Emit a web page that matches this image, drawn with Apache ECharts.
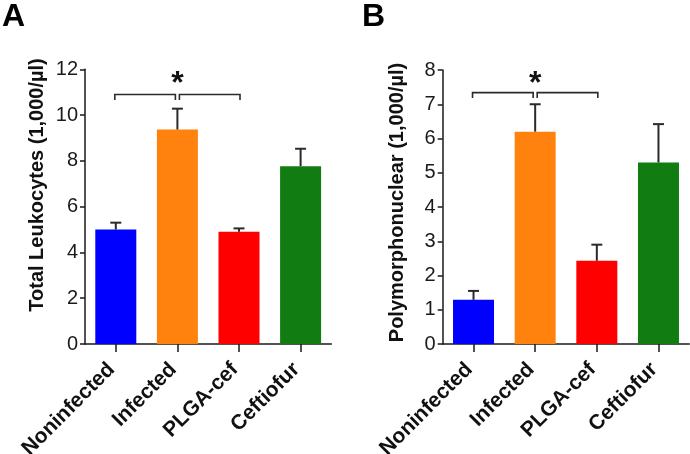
<!DOCTYPE html>
<html>
<head>
<meta charset="utf-8">
<script src="https://cdn.jsdelivr.net/npm/echarts@6/dist/echarts.min.js"></script>
<style>
html,body{margin:0;padding:0;background:#fff;}
#chart{width:690px;height:454px;}
</style>
</head>
<body>
<div id="chart"></div>
<script>
// ---- data ----
const categories = ['Noninfected', 'Infected', 'PLGA-cef', 'Ceftiofur'];
const colors = ['#0000ff', '#ff820e', '#ff0000', '#117c11'];

const leukoMean = [5.0, 9.37, 4.9, 7.77];
const leukoUpper = [5.3, 10.28, 5.05, 8.53];

const pmnMean = [1.29, 6.2, 2.43, 5.3];
const pmnUpper = [1.55, 7.0, 2.9, 6.42];

const leukoTicks = {min: 0, max: 12, interval: 2};
const pmnTicks = {min: 0, max: 8, interval: 1};

// significance brackets: [fromCategory, toCategory]
const bracketPairs = [[0, 1], [1, 2]];
const leukoBracketLevel = 10.9;
const pmnBracketLevel = 7.34;
const leukoStarLevel = 11.34;
const pmnStarLevel = 7.58;

const titleA = 'Total Leukocytes (1,000/µl)';
const titleB = 'Polymorphonuclear (1,000/µl)';

// ---- chart ----
const FONT = '"Liberation Sans", Arial, Helvetica, sans-serif';
const chart = echarts.init(document.getElementById('chart'), null, {renderer: 'canvas'});

function xAxisCfg(gridIndex) {
  return {
    type: 'category', gridIndex, data: categories, boundaryGap: true,
    axisLine: {show: true, lineStyle: {color: '#1a1a1a', width: 1.5}},
    axisTick: {show: true, alignWithLabel: true, length: 8, lineStyle: {color: '#1a1a1a', width: 1.5}},
    axisLabel: {rotate: 45, fontFamily: FONT, fontWeight: 'bold', fontSize: 21, color: '#111', margin: 18, padding: [0, 6, 0, 0], interval: 0},
    splitLine: {show: false}
  };
}
function yAxisCfg(gridIndex, t) {
  return {
    type: 'value', gridIndex, min: t.min, max: t.max, interval: t.interval,
    axisLine: {show: true, lineStyle: {color: '#1a1a1a', width: 1.5}},
    axisTick: {show: true, length: 5, lineStyle: {color: '#1a1a1a', width: 1.5}},
    axisLabel: {fontFamily: FONT, fontSize: 20, color: '#1a1a1a', margin: 7},
    splitLine: {show: false}
  };
}
function barSeries(idx, values) {
  return {
    type: 'bar', xAxisIndex: idx, yAxisIndex: idx, barWidth: 41,
    data: values.map((v, i) => ({value: v, itemStyle: {color: colors[i]}})),
    z: 2
  };
}
function errSeries(idx, mean, upper) {
  return {
    type: 'custom', xAxisIndex: idx, yAxisIndex: idx, z: 3,
    data: mean.map((m, i) => [i, m, upper[i]]),
    renderItem: function (params, api) {
      const p1 = api.coord([api.value(0), api.value(1)]);
      const p2 = api.coord([api.value(0), api.value(2)]);
      const st = {stroke: '#2a2a2a', lineWidth: 2};
      return {type: 'group', children: [
        {type: 'line', shape: {x1: p1[0], y1: p1[1], x2: p2[0], y2: p2[1]}, style: st},
        {type: 'line', shape: {x1: p2[0] - 5.5, y1: p2[1], x2: p2[0] + 5.5, y2: p2[1]}, style: st}
      ]};
    }
  };
}
function bracketSeries(idx, level, starLevel) {
  return {
    type: 'custom', xAxisIndex: idx, yAxisIndex: idx, z: 4,
    data: bracketPairs.map((p, k) => [p[0], p[1], level, k]),
    renderItem: function (params, api) {
      const a = api.coord([api.value(0), api.value(2)]);
      const b = api.coord([api.value(1), api.value(2)]);
      const first = api.value(3) === 0;
      const x1 = first ? a[0] - 1 : a[0] + 2;
      const x2 = first ? b[0] - 2 : b[0] + 1;
      const y = a[1];
      const st = {stroke: '#2a2a2a', lineWidth: 1.6, fill: null};
      const children = [
        {type: 'polyline', shape: {points: [[x1, y + 5.5], [x1, y], [x2, y], [x2, y + 5.5]]}, style: st}
      ];
      if (!first) {
        const s = api.coord([api.value(0), starLevel]);
        children.push({type: 'text', x: s[0], y: s[1], style: {
          text: '*', fontFamily: FONT, fontWeight: 'bold', fontSize: 32, fill: '#111',
          align: 'center', verticalAlign: 'middle'}});
      }
      return {type: 'group', children};
    }
  };
}

const option = {
  animation: false,
  backgroundColor: '#ffffff',
  grid: [
    {left: 85, top: 69.3, width: 246.4, height: 274.7, containLabel: false, outerBoundsMode: 'none'},
    {left: 442.7, top: 70, width: 246.6, height: 274, containLabel: false, outerBoundsMode: 'none'}
  ],
  xAxis: [xAxisCfg(0), xAxisCfg(1)],
  yAxis: [yAxisCfg(0, leukoTicks), yAxisCfg(1, pmnTicks)],
  series: [
    barSeries(0, leukoMean), errSeries(0, leukoMean, leukoUpper), bracketSeries(0, leukoBracketLevel, leukoStarLevel),
    barSeries(1, pmnMean), errSeries(1, pmnMean, pmnUpper), bracketSeries(1, pmnBracketLevel, pmnStarLevel)
  ],
  graphic: [
    {type: 'text', left: 2, top: 1, style: {text: 'A', fontFamily: FONT, fontWeight: 'bold', fontSize: 32, fill: '#000'}},
    {type: 'text', left: 362, top: 1, style: {text: 'B', fontFamily: FONT, fontWeight: 'bold', fontSize: 32, fill: '#000'}},
    {type: 'text', x: 37, y: 185, rotation: Math.PI / 2, style: {text: titleA, fontFamily: FONT, fontWeight: 'bold', fontSize: 20, fill: '#111', align: 'center', verticalAlign: 'middle'}},
    {type: 'text', x: 397, y: 202.5, rotation: Math.PI / 2, style: {text: titleB, fontFamily: FONT, fontWeight: 'bold', fontSize: 20, fill: '#111', align: 'center', verticalAlign: 'middle'}}
  ]
};
chart.setOption(option);
</script>
</body>
</html>
